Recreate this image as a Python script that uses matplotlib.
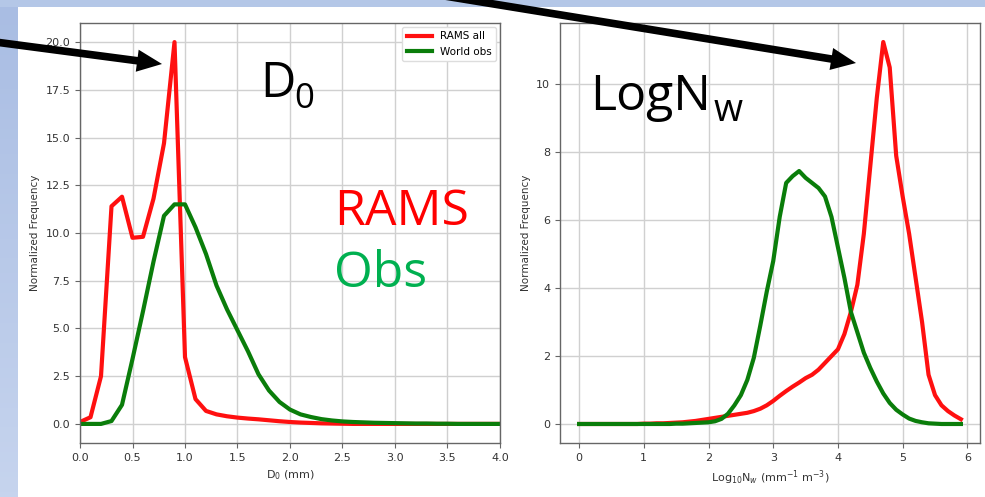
import numpy as np
import matplotlib as mpl
mpl.use('Agg')
import matplotlib.pyplot as plt

# D0 histogram (0.1 mm bins)
d0_bins = np.round(np.arange(0, 4.05, 0.1), 1)
d0_rams = [0.1, 0.35, 2.5, 11.4, 11.9, 9.75, 9.8, 11.8, 14.7, 20.0,
           3.5, 1.3, 0.68, 0.5, 0.4, 0.33, 0.28, 0.24, 0.19, 0.14,
           0.1, 0.07, 0.05, 0.03, 0.02, 0.01, 0, 0, 0, 0,
           0, 0, 0, 0, 0, 0, 0, 0, 0, 0, 0]
d0_obs = [0, 0, 0, 0.15, 1.0, 3.4, 5.9, 8.5, 10.9, 11.5,
          11.5, 10.3, 8.9, 7.25, 6.0, 4.9, 3.8, 2.6, 1.75, 1.15,
          0.75, 0.5, 0.36, 0.25, 0.18, 0.13, 0.1, 0.08, 0.06, 0.05,
          0.04, 0.03, 0.02, 0.02, 0.01, 0.01, 0, 0, 0, 0, 0]

# log10(Nw) histogram (0.1 bins)
nw_bins = np.round(np.arange(0, 5.95, 0.1), 1)
nw_rams = [0, 0, 0, 0, 0, 0, 0, 0, 0, 0,
           0.01, 0.01, 0.02, 0.02, 0.03, 0.04, 0.05, 0.07, 0.09, 0.12,
           0.15, 0.18, 0.21, 0.24, 0.27, 0.3, 0.33, 0.38, 0.45, 0.55,
           0.68, 0.83, 0.97, 1.1, 1.22, 1.35, 1.45, 1.6, 1.8, 2.0,
           2.2, 2.65, 3.3, 4.1, 5.6, 7.6, 9.6, 11.25, 10.5, 7.9,
           6.7, 5.6, 4.3, 3.0, 1.45, 0.85, 0.55, 0.38, 0.25, 0.14]
nw_obs = [0, 0, 0, 0, 0, 0, 0, 0, 0, 0,
          0, 0, 0, 0, 0, 0.01, 0.01, 0.02, 0.03, 0.04,
          0.05, 0.08, 0.15, 0.3, 0.55, 0.85, 1.3, 1.95, 2.9, 3.9,
          4.8, 6.1, 7.1, 7.3, 7.45, 7.25, 7.1, 6.95, 6.7, 6.1,
          5.2, 4.3, 3.3, 2.7, 2.1, 1.65, 1.25, 0.9, 0.62, 0.42,
          0.28, 0.16, 0.09, 0.05, 0.02, 0.01, 0, 0, 0, 0]

W, H = 985, 497
fig = plt.figure(figsize=(W / 100, H / 100), dpi=100)
fig.patch.set_facecolor('white')

red = '#ff1010'
green = '#0a7d0a'


def style(ax):
    ax.grid(True, color='#d0d0d0', linewidth=1.0)
    ax.set_axisbelow(True)
    for s in ax.spines.values():
        s.set_color('#666666')
        s.set_linewidth(1.0)
    ax.tick_params(labelsize=8, labelcolor='#333333', color='#666666', length=3.5)
    ax.set_ylabel('Normalized Frequency', fontsize=7.5, color='#333333')


ax1 = fig.add_axes([80 / W, 1 - 443 / H, 420 / W, 420 / H])
ax1.plot(d0_bins, d0_rams, color=red, lw=3, label='RAMS all')
ax1.plot(d0_bins, d0_obs, color=green, lw=3, label='World obs')
ax1.set_xlim(0, 4)
ax1.set_ylim(-1, 21)
ax1.set_xticks(np.arange(0, 4.01, 0.5))
ax1.set_yticks(np.arange(0, 20.01, 2.5))
ax1.set_xlabel('D$_0$ (mm)', fontsize=8, color='#333333')
style(ax1)
ax1.legend(loc='upper right', fontsize=7.5, handlelength=2.4, framealpha=1,
           edgecolor='#dddddd', borderaxespad=0.4)

ax2 = fig.add_axes([560 / W, 1 - 443 / H, 420 / W, 420 / H])
ax2.plot(nw_bins, nw_rams, color=red, lw=3)
ax2.plot(nw_bins, nw_obs, color=green, lw=3)
ax2.set_xlim(-0.295, 6.195)
ax2.set_ylim(-0.56, 11.81)
ax2.set_xticks(range(0, 7))
ax2.set_yticks(range(0, 11, 2))
ax2.set_xlabel('Log$_{10}$N$_w$ (mm$^{-1}$ m$^{-3}$)', fontsize=8, color='#333333')
style(ax2)

# slide overlay in pixel coordinates
ov = fig.add_axes([0, 0, 1, 1], zorder=10)
ov.axis('off')
ov.add_patch(plt.Rectangle((0, 0), W, 7, color='#b4c7e7', lw=0))
grad = np.linspace(0, 1, 100).reshape(-1, 1)
ov.imshow(grad, extent=(0, 18, H, 0), aspect='auto',
          cmap=mpl.colors.LinearSegmentedColormap.from_list('band', ['#a9bde3', '#c6d4ee']))
ov.set_xlim(0, W)
ov.set_ylim(H, 0)

arrow = dict(facecolor='black', edgecolor='none', width=5.5, headwidth=16,
             headlength=18, shrink=0)
ov.annotate('', xy=(162, 64), xytext=(-20, 40), arrowprops=arrow, annotation_clip=False)
ov.annotate('', xy=(856, 63), xytext=(420, -8), arrowprops=arrow, annotation_clip=False)

big = dict(family='Open Sans', va='baseline', ha='left')
ov.text(260, 97, 'D', fontsize=35, color='black', **big)
ov.text(294, 108, '0', fontsize=25, color='black', **big)
ov.text(590, 110, 'LogN', fontsize=36, color='black', **big)
ov.text(714, 121, 'w', fontsize=27, color='black', **big)
ov.text(334, 225, 'RAMS', fontsize=36, color='#ff0000', **big)
ov.text(334, 287, 'Obs', fontsize=36, color='#00b050', **big)

fig.savefig('out.png', dpi=100)
